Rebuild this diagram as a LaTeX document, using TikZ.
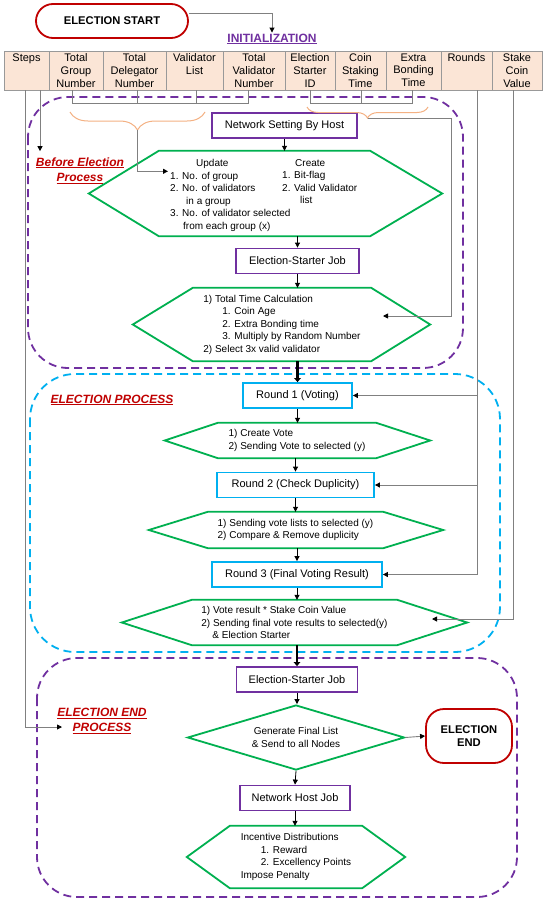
\documentclass[tikz,border=0pt]{standalone}
\usepackage{fontspec}
\setmainfont{Liberation Sans}
\usetikzlibrary{arrows.meta,shapes.geometric,decorations.pathreplacing,calc}

\definecolor{purp}{HTML}{7030A0}
\definecolor{grn}{HTML}{00B050}
\definecolor{sky}{HTML}{00B0F0}
\definecolor{dred}{HTML}{C00000}
\definecolor{peach}{HTML}{FBE5D6}
\definecolor{bracecol}{HTML}{F4B183}
\definecolor{lgray}{HTML}{808080}

\tikzset{
  jobbox/.style={draw=purp, line width=1.8pt, fill=white, inner sep=0pt, minimum height=25pt, font=\fontsize{11}{13}\selectfont},
  roundbox/.style={jobbox, draw=sky},
  hexbody/.style={inner sep=0pt, align=left, font=\fontsize{10}{12.5}\selectfont},
  hexline/.style={draw=grn, line width=1.8pt, line join=miter},
  flow/.style={-{Triangle[length=5pt,width=5pt]}, black, line width=0.8pt},
  heavyflow/.style={-{Triangle[length=4pt,width=6.5pt]}, black, line width=2.6pt},
  feed/.style={-{Triangle[length=5pt,width=5pt,color=black]}, draw=lgray, line width=0.9pt},
  feedline/.style={draw=lgray, line width=0.9pt},
  tblline/.style={draw=gray!80, line width=0.9pt},
  bracemark/.style={draw=bracecol, line width=1pt, decorate},
  termbox/.style={draw=dred, line width=1.8pt, rounded corners=17pt, align=center, font=\bfseries\fontsize{11.2}{13.5}\selectfont},
  redlabel/.style={text=dred, inner sep=1pt, align=center, font=\bfseries\itshape\fontsize{12}{15.5}\selectfont},
  hdr/.style={anchor=north, inner sep=0pt, align=center, font=\fontsize{11}{12.7}\selectfont},
  region/.style={dash pattern=on 8pt off 5pt, line width=1.8pt, rounded corners=40pt}
}

\begin{document}
\begin{tikzpicture}[x=1pt,y=-1pt]

\path[use as bounding box, fill=white] (0,0) rectangle (550,910);

\draw[region, purp] (28,97) rectangle (463,368);
\draw[region, sky, rounded corners=45pt] (30,374) rectangle (500,652);
\draw[region, purp] (37,658) rectangle (517,897);

\node[termbox, minimum width=152pt, minimum height=34pt] (start) at (112,21) {ELECTION START};
\node[font=\bfseries\fontsize{12}{14}\selectfont, text=purp, inner sep=1pt] (init) at (272,39) {\underline{INITIALIZATION}};

\node[draw=gray!80, fill=peach, line width=0.9pt, inner sep=0pt, minimum width=538pt, minimum height=39pt] (tbl) at (273,70.5) {};
\draw[tblline] (49,51) -- (49,90) (103,51) -- (103,90) (166,51) -- (166,90) (223,51) -- (223,90) (285,51) -- (285,90);
\draw[tblline] (335,51) -- (335,90) (386,51) -- (386,90) (441,51) -- (441,90) (492,51) -- (492,90);

\node[hdr] (hSteps) at (26.5,53.5) {Steps};
\node[hdr] (hGroup) at (76,53.5) {Total\\Group\\Number};
\node[hdr] (hDeleg) at (134.5,53.5) {Total\\Delegator\\Number};
\node[hdr] (hVList) at (194.5,53.5) {Validator\\List};
\node[hdr] (hVNum) at (254,53.5) {Total\\Validator\\Number};
\node[hdr] (hStarter) at (310,53.5) {Election\\Starter\\ID};
\node[hdr] (hCoin) at (360.5,53.5) {Coin\\Staking\\Time};
\node[hdr] (hBond) at (413.5,53.5) {Extra\\Bonding\\Time};
\node[hdr] (hRounds) at (466.5,53.5) {Rounds};
\node[hdr] (hStake) at (517,53.5) {Stake\\Coin\\Value};

\node[redlabel] (lblBefore) at (80,170.5) {\underline{Before Election}\\\underline{Process}};
\node[redlabel] (lblRun) at (112,400) {\underline{ELECTION PROCESS}};
\node[redlabel] (lblEnd) at (102,721) {\underline{ELECTION END}\\\underline{PROCESS}};

\node[jobbox, minimum width=145pt] (net) at (284.5,125.5) {Network Setting By Host};
\node[jobbox, minimum width=123pt] (esjA) at (297.5,261) {Election-Starter Job};
\node[roundbox, minimum width=109pt] (rndA) at (297.5,395.5) {Round 1 (Voting)};
\node[roundbox, minimum width=157pt] (rndB) at (295.5,485) {Round 2 (Check Duplicity)};
\node[roundbox, minimum width=170pt] (rndC) at (297,574.5) {Round 3 (Final Voting Result)};
\node[jobbox, minimum width=121pt] (esjB) at (297,679.5) {Election-Starter Job};
\node[jobbox, minimum width=110pt] (nhj) at (295,798) {Network Host Job};

\node[hexbody, minimum width=211pt, minimum height=85pt] (hexA) at (264.5,193.5) {};
\node[hexbody, anchor=north west] (hexAl) at (170,159.3) {\hspace*{26pt}Update\\1. No. of group\\2. No. of validators\\\hspace*{16pt}in a group\\3. No. of validator selected\\\hspace*{13pt}from each group (x)};
\node[hexbody, anchor=north west] (hexAr) at (282,159.3) {\hspace*{13pt}Create\\1. Bit-flag\\2. Valid Validator\\\hspace*{18pt}list};
\node[hexbody, minimum width=178pt, minimum height=73pt] (hexB) at (282,324.5) {1) Total Time Calculation\\\hspace*{19pt}1. Coin Age\\\hspace*{19pt}2. Extra Bonding time\\\hspace*{19pt}3. Multiply by Random Number\\2) Select 3x valid validator};
\node[hexbody, minimum width=158pt, minimum height=35pt] (hexC) at (297,440.5) {1) Create Vote\\2) Sending Vote to selected (y)};
\node[hexbody, minimum width=175pt, minimum height=36pt] (hexD) at (295.5,530) {1) Sending vote lists to selected (y)\\2) Compare \& Remove duplicity};
\node[hexbody, minimum width=205pt, minimum height=45pt] (hexE) at (294.5,622.5) {1) Vote result * Stake Coin Value\\2) Sending final vote results to selected(y)\\\hspace*{11pt}\& Election Starter};
\node[hexbody, minimum width=132pt, minimum height=62pt] (hexF) at (296,857) {Incentive Distributions\\\hspace*{20pt}1. Reward\\\hspace*{20pt}2. Excellency Points\\Impose Penalty};

\draw[hexline] (hexA.north west) -- (hexA.north east) -- ([xshift=72pt]hexA.east) -- (hexA.south east) -- (hexA.south west) -- ([xshift=-70pt]hexA.west) -- cycle;
\draw[hexline] (hexB.north west) -- (hexB.north east) -- ([xshift=59pt]hexB.east) -- (hexB.south east) -- (hexB.south west) -- ([xshift=-60pt]hexB.west) -- cycle;
\draw[hexline] (hexC.north west) -- (hexC.north east) -- ([xshift=54pt]hexC.east) -- (hexC.south east) -- (hexC.south west) -- ([xshift=-53pt]hexC.west) -- cycle;
\draw[hexline] (hexD.north west) -- (hexD.north east) -- ([xshift=60pt]hexD.east) -- (hexD.south east) -- (hexD.south west) -- ([xshift=-59pt]hexD.west) -- cycle;
\draw[hexline] (hexE.north west) -- (hexE.north east) -- ([xshift=70pt]hexE.east) -- (hexE.south east) -- (hexE.south west) -- ([xshift=-70pt]hexE.west) -- cycle;
\draw[hexline] (hexF.north west) -- (hexF.north east) -- ([xshift=43pt]hexF.east) -- (hexF.south east) -- (hexF.south west) -- ([xshift=-43pt]hexF.west) -- cycle;

\node[diamond, draw=grn, line width=1.8pt, aspect=3.3, inner sep=1pt, minimum width=217pt, minimum height=65pt, align=center, font=\fontsize{10}{13}\selectfont] (gen) at (296,737.5) {Generate Final List\\\& Send to all Nodes};
\node[termbox, minimum width=86pt, minimum height=54pt, rounded corners=18pt] (stop) at (469,736) {ELECTION\\END};

\draw[flow] (net.south) -- (net.south |- hexA.north);
\draw[flow] (esjA.north |- hexA.south) -- (esjA.north);
\draw[flow] (esjA.south) -- (esjA.south |- hexB.north);
\draw[heavyflow] (rndA.north |- hexB.south) -- (rndA.north);
\draw[flow] (rndA.south) -- (rndA.south |- hexC.north);
\draw[flow] (rndB.north |- hexC.south) -- (rndB.north);
\draw[flow] (rndB.south) -- (rndB.south |- hexD.north);
\draw[flow] (rndC.north |- hexD.south) -- (rndC.north);
\draw[flow] (rndC.south) -- (rndC.south |- hexE.north);
\draw[heavyflow] (esjB.north |- hexE.south) -- (esjB.north);
\draw[flow] (esjB.south) -- (esjB.south |- gen.north);
\draw[feed] (gen.east) -- (stop.west);
\draw[flow] (gen.south) -- (nhj.north);
\draw[flow] (nhj.south) -- (nhj.south |- hexF.north);

\draw[feed] ([yshift=8pt]start.east) -| (init.north);

\draw[feedline] (72,90) -- (72,103) -- (248,103) -- (248,90) (137,90) -- (137,103) (196,90) -- (196,103);
\draw[feedline] (310,90) -- (310,103) -- (412,103) -- (412,90) (361,90) -- (361,103);
\draw[bracemark, decoration={brace, mirror, amplitude=18pt}] (70,112) -- (205,112);
\draw[bracemark, decoration={brace, mirror, amplitude=11pt}] (307,107) -- (428,107);

\coordinate (jA) at (137.5,130);
\coordinate (jB) at (367.5,118);
\coordinate (coinIn) at (383,316);
\draw[feed] (jA) |- ([xshift=-2pt,yshift=-12pt]hexAl.north west);
\draw[feed] (jB) -- (451,118) |- (coinIn);

\coordinate (rTop) at (477,90);
\draw[feed] (rTop) |- (rndC.east);
\draw[feed] (rTop |- rndA.east) -- (rndA.east);
\draw[feed] (rTop |- rndB.east) -- (rndB.east);

\coordinate (sTop) at (513,90);
\coordinate (stakeIn) at (432,619);
\draw[feed] (sTop) |- (stakeIn);

\coordinate (stA) at (40,90);
\coordinate (stB) at (25,90);
\coordinate (endIn) at (62,727);
\draw[feed] (stA) -- ($(stA |- lblBefore.north)+(0,-5)$);
\draw[feed] (stB) |- (endIn);

\end{tikzpicture}
\end{document}
